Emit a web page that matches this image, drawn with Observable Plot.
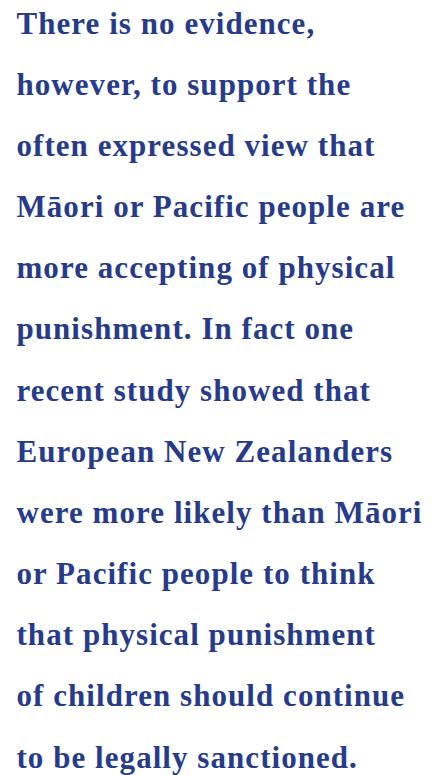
<!DOCTYPE html>
<html>
<head>
<meta charset="utf-8">
<script src="https://cdn.jsdelivr.net/npm/d3@7"></script>
<script src="https://cdn.jsdelivr.net/npm/@observablehq/plot@0.6"></script>
<style>
  html, body { margin: 0; padding: 0; background: #ffffff; }
  #chart svg { display: block; }
</style>
</head>
<body>
<div id="chart"></div>
<script>
const lines = [
  "There is no evidence,",
  "however, to support the",
  "often expressed view that",
  "Māori or Pacific people are",
  "more accepting of physical",
  "punishment. In fact one",
  "recent study showed that",
  "European New Zealanders",
  "were more likely than Māori",
  "or Pacific people to think",
  "that physical punishment",
  "of children should continue",
  "to be legally sanctioned."
];
const lineIndex = lines.map((d, i) => i);

const chart = Plot.plot({
  width: 432,
  height: 775,
  marginTop: 33,
  marginBottom: 8,
  marginLeft: 16,
  marginRight: 0,
  style: { background: "#ffffff", overflow: "visible" },
  y: { domain: [0, lines.length - 1], reverse: true, axis: null },
  marks: [
    Plot.text(lineIndex, {
      y: (i) => i,
      frameAnchor: "left",
      text: (i) => lines[i],
      textAnchor: "start",
      lineAnchor: "bottom",
      fontFamily: "Liberation Serif",
      fontSize: 31,
      fontWeight: "bold",
      fill: "#263b8b"
    })
  ]
});
chart.querySelectorAll("text").forEach(t => t.style.letterSpacing = "1.05px");
document.getElementById("chart").appendChild(chart);
</script>
</body>
</html>
